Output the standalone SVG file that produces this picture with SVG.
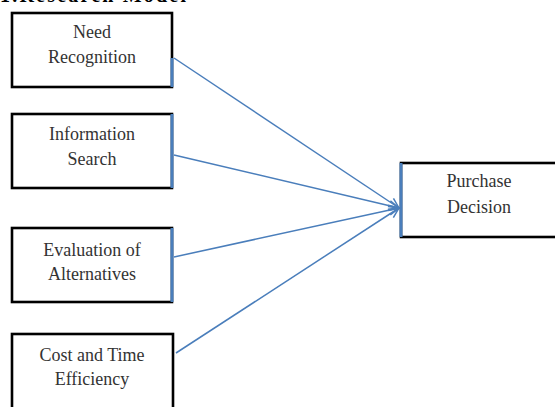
<svg xmlns="http://www.w3.org/2000/svg" width="555" height="407" viewBox="0 0 555 407">
<defs>
<style>
.box{fill:#fff;stroke:#000;stroke-width:2.6}
.edge{fill:none;stroke:#4a7ebb;stroke-width:3}
.lbl{font-family:"Liberation Serif","Times New Roman",serif;font-size:18px;fill:#333;text-anchor:middle}
.conn{fill:none;stroke:#4a7ebb;stroke-width:1.5}
.title{font-family:"Liberation Serif","Times New Roman",serif;font-size:20px;font-weight:bold;fill:#000}
</style>
<marker id="arr" viewBox="0 0 12 12" refX="11" refY="6" markerWidth="12" markerHeight="12" markerUnits="userSpaceOnUse" orient="auto">
<path d="M1,1 L11,6 L1,11" fill="none" stroke="#4a7ebb" stroke-width="1.5"/>
</marker>
</defs>
<rect width="555" height="407" fill="#fff"/>
<text class="title" x="0" y="1.5" textLength="186" lengthAdjust="spacing">1.Research Model</text>
<g id="need-recognition">
<rect class="box" x="12" y="13" width="160" height="74"/>
<path class="edge" d="M172,58 V87"/>
<text class="lbl" x="92" y="38">Need</text>
<text class="lbl" x="92" y="63">Recognition</text>
</g>
<g id="information-search">
<rect class="box" x="12" y="114" width="160" height="74"/>
<path class="edge" d="M172,114 V188"/>
<text class="lbl" x="92" y="140">Information</text>
<text class="lbl" x="92" y="165">Search</text>
</g>
<g id="evaluation-of-alternatives">
<rect class="box" x="12" y="228" width="160" height="74"/>
<path class="edge" d="M172,228 V302"/>
<text class="lbl" x="92" y="256">Evaluation of</text>
<text class="lbl" x="92" y="280">Alternatives</text>
</g>
<g id="cost-and-time-efficiency">
<rect class="box" x="12" y="334" width="161" height="90"/>
<text class="lbl" x="92" y="361">Cost and Time</text>
<text class="lbl" x="92" y="385">Efficiency</text>
</g>
<g id="purchase-decision">
<rect class="box" x="401" y="163" width="170" height="74"/>
<path class="edge" d="M401,163 V237"/>
<text class="lbl" x="479" y="187">Purchase</text>
<text class="lbl" x="479" y="213">Decision</text>
</g>
<g id="connectors">
<path class="conn" d="M174,58 L399,208" marker-end="url(#arr)"/>
<path class="conn" d="M174,155 L399,208" marker-end="url(#arr)"/>
<path class="conn" d="M174,257 L399,208" marker-end="url(#arr)"/>
<path class="conn" d="M176,353 L399,208" marker-end="url(#arr)"/>
</g>
</svg>
